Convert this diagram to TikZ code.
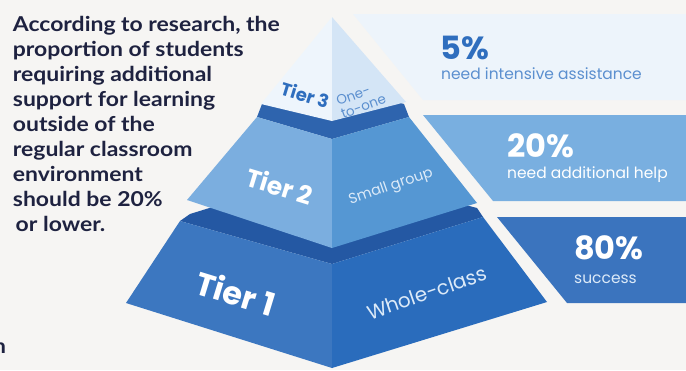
\documentclass[tikz,border=0pt]{standalone}
\usepackage{fontspec}
\setmainfont{Lato}[FakeStretch=1.12]
\newfontfamily\pop{Poppins}
\definecolor{bgc}{HTML}{F6F5F3}
\definecolor{navy}{HTML}{1E2240}
\definecolor{tthreel}{HTML}{EEF5FC}
\definecolor{tthreer}{HTML}{D4E5F6}
\definecolor{bandtwo}{HTML}{2E64AE}
\definecolor{ttwol}{HTML}{7BAEDF}
\definecolor{ttwor}{HTML}{5597D3}
\definecolor{bandone}{HTML}{2458A3}
\definecolor{tonel}{HTML}{3C77C0}
\definecolor{toner}{HTML}{2A6CBC}
\definecolor{banone}{HTML}{EDF4FB}
\definecolor{bantwo}{HTML}{79AFE0}
\definecolor{banthree}{HTML}{3B74BE}
\definecolor{bluetxt}{HTML}{2F6EBE}
\definecolor{paletxt}{HTML}{5B8FCF}
\definecolor{whitish}{HTML}{DCEAF8}
\tikzset{
  para/.style={anchor=base west, inner sep=0pt, text=navy, font=\bfseries\fontsize{20.5}{25}\selectfont},
  big/.style={anchor=base west, inner sep=0pt, font=\pop\bfseries\fontsize{32}{32}\selectfont},
  sub/.style={anchor=base west, inner sep=0pt, font=\pop\fontsize{15.5}{15.5}\selectfont},
  tierlab/.style={inner sep=0pt, font=\pop\bfseries},
  facelab/.style={inner sep=0pt, font=\pop},
}
\begin{document}
\begin{tikzpicture}[x=1pt,y=-1pt]
\fill[bgc] (0,0) rectangle (686,370);
\useasboundingbox (0,0) rectangle (686,370);
% banners
\fill[banone] (353,14) -- (686,14) -- (686,100) -- (423,100) -- cycle;
\fill[bantwo] (423,115) -- (686,115) -- (686,201) -- (493,201) -- cycle;
\fill[banthree] (497,217) -- (686,217) -- (686,303) -- (567,303) -- cycle;
% tier 1
\fill[bandone] (180,221) -- (332,264) -- (483,217) -- (477,208) -- (332,170) -- (190,214) -- cycle;
\fill[tonel] (180,221) -- (332,264) -- (332,368) -- (126,303) -- cycle;
\fill[toner] (332,264) -- (483,217) -- (547,302) -- (332,368) -- cycle;
% tier 2
\fill[bandtwo] (257,117) -- (332,139) -- (409,117) -- (404,104) -- (332,85) -- (262,104) -- cycle;
\fill[ttwol] (257,117) -- (332,139) -- (332,248) -- (187,200) -- cycle;
\fill[ttwor] (332,139) -- (409,117) -- (477,203) -- (332,248) -- cycle;
% tier 3
\fill[tthreel] (332,17) -- (261,104) -- (332,121) -- cycle;
\fill[tthreer] (332,17) -- (332,121) -- (406,102) -- cycle;
% paragraph
\foreach \t [count=\i] in {According to research{,} the, proportion of students, requiring additional, support for learning, outside of the, regular classroom, environment, should be 20\%}
  \node[para] (p\i) at (12.7,{31.7+25*(\i-1)}) {\t};
\node[para] (p9) at (15.5,231.7) {or lower.};
\node[para] (frag) at (-7,353) {n};
% tier labels
\node[tierlab, text=white, font=\pop\bfseries\fontsize{32}{32}\selectfont, rotate=-17] (t1) at (236,293) {Tier 1};
\node[facelab, text=whitish, font=\pop\fontsize{20}{20}\selectfont, rotate=19] (w1) at (427,293) {Whole-class};
\node[tierlab, text=white, font=\pop\bfseries\fontsize{25}{25}\selectfont, rotate=-17] (t2) at (280,186) {Tier 2};
\node[facelab, text=whitish, font=\pop\fontsize{14.5}{14.5}\selectfont, rotate=19] (w2) at (391,187) {Small group};
\node[tierlab, text=bluetxt, font=\pop\bfseries\fontsize{18}{18}\selectfont, rotate=-17] (t3) at (305,95) {Tier 3};
\node[facelab, text=paletxt, font=\pop\fontsize{13.5}{14}\selectfont, rotate=20, align=left] (w3) at (361,100) {One-\\to-one};
% banner texts
\node[big, text=bluetxt] (n5) at (440,59) {5\%};
\node[sub, text=paletxt] (s5) at (441,79) {need intensive assistance};
\node[big, text=white] (n20) at (507,157) {20\%};
\node[sub, text=white] (s20) at (507,178) {need additional help};
\node[big, text=white] (n80) at (574,259) {80\%};
\node[sub, text=whitish] (s80) at (574,283) {success};
\end{tikzpicture}
\end{document}
